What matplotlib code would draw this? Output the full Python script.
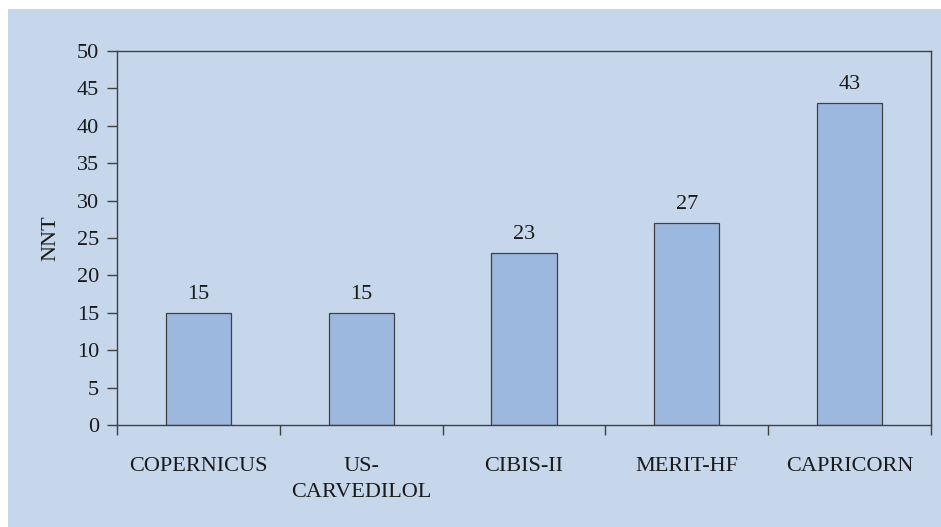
import matplotlib
matplotlib.use("Agg")
import matplotlib.pyplot as plt
from matplotlib.patches import Rectangle
from matplotlib.ticker import FixedLocator, NullFormatter

categories = ["COPERNICUS", "US-\nCARVEDILOL", "CIBIS-II", "MERIT-HF", "CAPRICORN"]
nnt = [15, 15, 23, 27, 43]

plt.rcParams['font.family'] = ['Liberation Serif', 'DejaVu Serif']

bg = "#C6D7EC"
bar_color = "#9DB8DF"
edge = "#404040"
txt = "#1a1a1a"
fs = 16

fig = plt.figure(figsize=(9.41, 5.27), dpi=100)
fig.patch.set_facecolor("white")
fig.add_artist(Rectangle((8/941, 0), 1 - 8/941, 1 - 9/527, transform=fig.transFigure,
                         facecolor=bg, edgecolor="none", zorder=0))

ax = fig.add_axes([0.1243, 0.1935, 0.8651, 0.7097])
ax.set_facecolor(bg)
x = list(range(len(categories)))
bars = ax.bar(x, nnt, width=0.4, color=bar_color, edgecolor=edge, linewidth=0.9, zorder=2)
for xi, v in zip(x, nnt):
    ax.text(xi, v + 1.2, str(v), ha="center", va="bottom", fontsize=fs, color=txt)

ax.set_xlim(-0.5, len(categories) - 0.5)
ax.set_ylim(0, 50)
ax.set_yticks(range(0, 51, 5))
ax.set_xticks(x)
ax.set_xticklabels(categories, fontsize=fs, color=txt, linespacing=1.5)
ax.xaxis.set_minor_locator(FixedLocator([i - 0.5 for i in range(len(categories) + 1)]))
ax.xaxis.set_minor_formatter(NullFormatter())
ax.tick_params(axis="x", which="major", length=0, pad=23)
ax.tick_params(axis="x", which="minor", length=7, width=1, color=edge, direction="out")
ax.tick_params(axis="y", length=7, width=1, color=edge, direction="out", labelsize=fs,
               labelcolor=txt, pad=6)
for s in ax.spines.values():
    s.set_color(edge)
    s.set_linewidth(1.0)
ax.set_ylabel("NNT", fontsize=fs, color=txt, labelpad=12)

fig.savefig("out.png", dpi=100, facecolor=fig.get_facecolor())
